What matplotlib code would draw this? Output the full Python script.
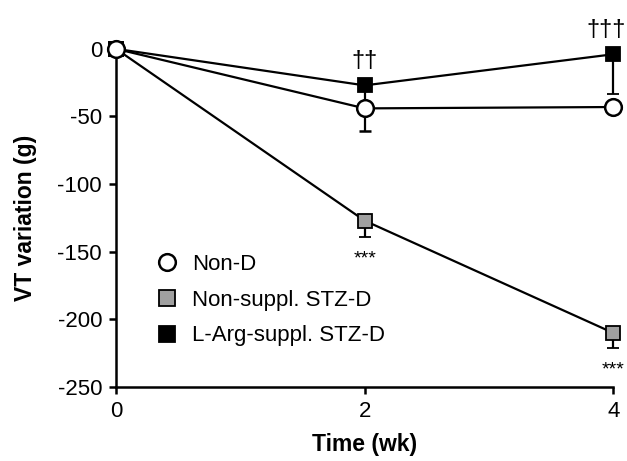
import matplotlib.pyplot as plt
from matplotlib.lines import Line2D

plt.rcParams['font.family'] = ['Liberation Sans', 'DejaVu Sans']
plt.rcParams['axes.unicode_minus'] = False

# data
weeks = [0, 2, 4]
non_d = [0, -44, -43]
non_d_err = [0, 17, 0]
stz_d = [0, -127, -210]
stz_d_err = [0, 12, 11]
larg_d = [0, -27, -4]
larg_d_err = [0, 14, 29]
labels = ['Non-D', 'Non-suppl. STZ-D', 'L-Arg-suppl. STZ-D']

fig = plt.figure(figsize=(6.27, 4.61), dpi=100)
ax = fig.add_axes([0.185, 0.1605, 0.793, 0.7335])

lw = 1.6
# 两个糖尿病组
ax.errorbar(weeks, stz_d, yerr=[stz_d_err, [0, 0, 0]], color='black', lw=lw,
            marker='s', ms=10, mfc='#a0a0a0', mec='black', mew=1.3,
            capsize=4, capthick=lw, elinewidth=lw, clip_on=False, zorder=3)
ax.errorbar(weeks, larg_d, yerr=[larg_d_err, [0, 0, 0]], color='black', lw=lw,
            marker='s', ms=10, mfc='black', mec='black', mew=1.3,
            capsize=4, capthick=lw, elinewidth=lw, clip_on=False, zorder=4)
# 非糖尿病组
ax.errorbar(weeks, non_d, yerr=[non_d_err, [0, 0, 0]], color='black', lw=lw,
            marker='o', ms=12, mfc='white', mec='black', mew=1.8,
            capsize=4, capthick=lw, elinewidth=lw, clip_on=False, zorder=5)

# 显著性标注
ax.text(2, stz_d[1] - stz_d_err[1] - 10, '***', ha='center', va='top', fontsize=14)
ax.text(4, stz_d[2] - stz_d_err[2] - 10, '***', ha='center', va='top', fontsize=14)
ax.text(2, larg_d[1] + 10, '††', ha='center', va='bottom', fontsize=17)
ax.annotate('†††', (4, larg_d[2] + 10), xytext=(-5, 0), textcoords='offset points',
            ha='center', va='bottom', fontsize=17, annotation_clip=False)

ax.set_xlim(0, 4)
ax.set_ylim(-250, 0)
ax.set_xticks([0, 2, 4])
ax.set_yticks([0, -50, -100, -150, -200, -250])
ax.tick_params(direction='out', length=5, width=1.8, labelsize=16, pad=5)
for s in ['top', 'right']:
    ax.spines[s].set_visible(False)
for s in ['left', 'bottom']:
    ax.spines[s].set_linewidth(1.8)

ax.set_xlabel('Time (wk)', fontsize=16.5, fontweight='bold', labelpad=8)
ax.set_ylabel('VT variation (g)', fontsize=16.5, fontweight='bold', labelpad=15)

handles = [
    Line2D([], [], ls='none', marker='o', ms=12, mfc='white', mec='black', mew=1.8),
    Line2D([], [], ls='none', marker='s', ms=11, mfc='#a0a0a0', mec='black', mew=1.3),
    Line2D([], [], ls='none', marker='s', ms=11, mfc='black', mec='black', mew=1.3),
]
ax.legend(handles, labels, loc='center left', bbox_to_anchor=(0.08, 0.257),
          frameon=False, fontsize=16, handlelength=1.0, handletextpad=0.65,
          labelspacing=0.67, borderpad=0, borderaxespad=0)

fig.savefig('out.png', dpi=100)
